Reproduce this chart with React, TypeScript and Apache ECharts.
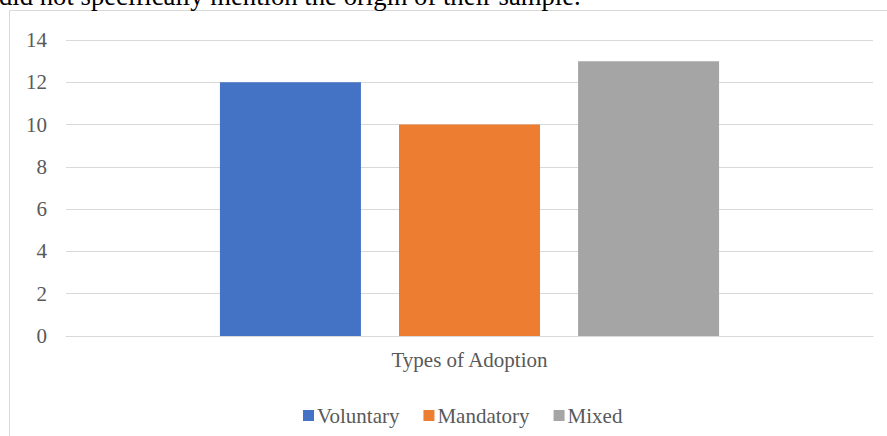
import React, { useEffect, useRef } from "react";
import * as echarts from "echarts";

const categories = ["Types of Adoption"];
const seriesNames = ["Voluntary", "Mandatory", "Mixed"];
const seriesValues = [[12], [10], [13]];
const seriesColors = ["#4472C4", "#ED7D31", "#A5A5A5"];
const yTicks = { min: 0, max: 14, interval: 2 };
const bodyText = "did not specifically mention the origin of their sample.";

const FONT = '"Liberation Serif", "Times New Roman", serif';

export default function App() {
  const ref = useRef<HTMLDivElement>(null);
  useEffect(() => {
    if (!ref.current) return;
    const chart = echarts.init(ref.current, undefined, { renderer: "svg" });
    chart.setOption({
      animation: false,
      backgroundColor: "#ffffff",
      textStyle: { fontFamily: FONT },
      graphic: [
        {
          type: "rect",
          shape: { x: 9.5, y: 10.5, width: 1000, height: 1000 },
          style: { fill: "none", stroke: "#d9d9d9", lineWidth: 1 },
          silent: true,
        },
        {
          type: "text",
          x: -1,
          y: -4,
          style: {
            text: bodyText,
            font: `26.7px ${FONT}`,
            fill: "#000000",
            verticalAlign: "middle",
            align: "left",
          },
          silent: true,
        },
      ],
      legend: {
        data: seriesNames,
        left: 298,
        top: 400,
        icon: "rect",
        itemWidth: 11,
        itemHeight: 11,
        itemGap: 24,
        textStyle: { fontFamily: FONT, fontSize: 21, color: "#595959", padding: [0, 0, 0, -2] },
      },
      grid: { left: 66, right: 14, top: 40, bottom: 100, containLabel: false },
      xAxis: {
        type: "category",
        data: categories,
        axisLine: { show: true, lineStyle: { color: "#d9d9d9", width: 1 } },
        axisTick: { show: false },
        axisLabel: { fontFamily: FONT, fontSize: 21, color: "#595959", margin: 13 },
      },
      yAxis: {
        type: "value",
        min: yTicks.min,
        max: yTicks.max,
        interval: yTicks.interval,
        axisLine: { show: false },
        axisTick: { show: false },
        splitLine: { lineStyle: { color: "#d9d9d9", width: 1 } },
        axisLabel: { fontFamily: FONT, fontSize: 21, color: "#595959", margin: 19 },
      },
      series: seriesNames.map((name, i) => ({
        name,
        type: "bar",
        data: seriesValues[i],
        barWidth: 141,
        barGap: "27%",
        itemStyle: { color: seriesColors[i] },
      })),
    });
    return () => chart.dispose();
  }, []);
  return (
    <div
      ref={ref}
      style={{ position: "absolute", left: 0, top: 0, width: 887, height: 436, overflow: "hidden" }}
    />
  );
}
